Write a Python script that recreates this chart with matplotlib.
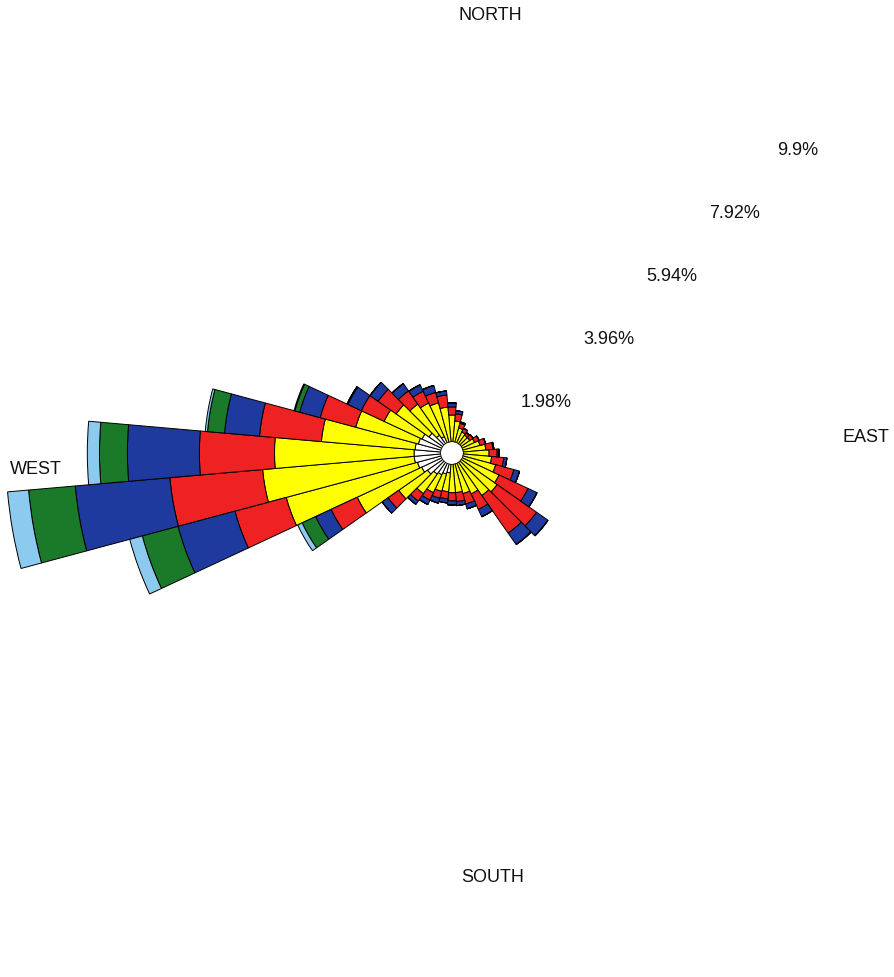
import numpy as np
import matplotlib
matplotlib.use("Agg")
import matplotlib.pyplot as plt
from matplotlib.transforms import offset_copy

plt.rcParams['font.family'] = ['Liberation Sans', 'DejaVu Sans']

# Wind directions (degrees, sector centres, 10-degree bins)
directions = np.arange(0, 360, 10)

# Frequency (%) per speed class for each direction sector
class_1 = [0.00, 0.00, 0.00, 0.00, 0.00, 0.00, 0.00, 0.00, 0.00, 0.00,
           0.00, 0.00, 0.00, 0.00, 0.00, 0.00, 0.00, 0.00, 0.00, 0.20,
           0.24, 0.29, 0.33, 0.42, 0.50, 0.55, 0.60, 0.60, 0.58, 0.53,
           0.49, 0.38, 0.24, 0.16, 0.00, 0.00]
class_2 = [0.60, 0.47, 0.33, 0.27, 0.24, 0.24, 0.31, 0.40, 0.51, 0.58,
           0.64, 0.76, 0.91, 0.98, 0.91, 0.76, 0.69, 0.64, 0.64, 0.42,
           0.40, 0.44, 0.53, 0.78, 1.58, 3.02, 3.38, 3.10, 2.09, 1.44,
           0.93, 0.89, 0.84, 0.82, 0.91, 0.78]
class_3 = [0.18, 0.16, 0.11, 0.09, 0.07, 0.09, 0.11, 0.13, 0.16, 0.18,
           0.27, 0.42, 0.71, 1.07, 1.02, 0.38, 0.24, 0.20, 0.18, 0.16,
           0.16, 0.18, 0.20, 0.29, 0.64, 1.18, 2.07, 1.67, 1.38, 0.82,
           0.56, 0.49, 0.36, 0.29, 0.24, 0.27]
class_4 = [0.09, 0.07, 0.03, 0.00, 0.00, 0.00, 0.00, 0.00, 0.02, 0.04,
           0.07, 0.13, 0.22, 0.31, 0.31, 0.18, 0.11, 0.09, 0.09, 0.09,
           0.11, 0.11, 0.09, 0.16, 0.38, 1.31, 2.11, 1.60, 0.78, 0.47,
           0.33, 0.22, 0.20, 0.16, 0.16, 0.09]
class_5 = [0.00, 0.00, 0.00, 0.00, 0.00, 0.00, 0.00, 0.00, 0.00, 0.00,
           0.00, 0.00, 0.00, 0.00, 0.00, 0.00, 0.00, 0.00, 0.00, 0.00,
           0.00, 0.00, 0.00, 0.00, 0.33, 0.82, 1.04, 0.62, 0.38, 0.11,
           0.02, 0.00, 0.00, 0.00, 0.00, 0.00]
class_6 = [0.00, 0.00, 0.00, 0.00, 0.00, 0.00, 0.00, 0.00, 0.00, 0.00,
           0.00, 0.00, 0.00, 0.00, 0.00, 0.00, 0.00, 0.00, 0.00, 0.00,
           0.00, 0.00, 0.00, 0.00, 0.11, 0.29, 0.47, 0.27, 0.05, 0.02,
           0.00, 0.00, 0.00, 0.00, 0.00, 0.00]

speed_classes = [class_1, class_2, class_3, class_4, class_5, class_6]
class_colors = ['#ffffff', '#ffff00', '#ee2222', '#1f3a9e', '#1a7a2a', '#8ccaf0']

ring_values = [1.98, 3.96, 5.94, 7.92, 9.9]
ring_labels = ['1.98%', '3.96%', '5.94%', '7.92%', '9.9%']
compass_labels = ['NORTH', 'SOUTH', 'WEST', 'EAST']

W, H = 894, 977
fig = plt.figure(figsize=(W / 100, H / 100), dpi=100)

cx, cy, R = 452, 453, 460
ax = fig.add_axes([(cx - R) / W, (H - cy - R) / H, 2 * R / W, 2 * R / H],
                  projection='polar')
ax.set_theta_zero_location('N')
ax.set_theta_direction(-1)
ax.set_rorigin(-0.244)
ax.set_ylim(0, 9.978)
ax.set_axis_off()

theta = np.deg2rad(directions)
width = np.deg2rad(10)
bottom = np.zeros(len(directions))
for vals, col in zip(speed_classes, class_colors):
    vals = np.asarray(vals)
    ax.bar(theta, vals, width=width, bottom=bottom, color=col,
           edgecolor='black', linewidth=0.7, align='center')
    bottom = bottom + vals

# Ring value labels along the north-east diagonal
lab_tr = offset_copy(ax.transData, fig=fig, x=23, y=-20, units='dots')
for v, lab in zip(ring_values, ring_labels):
    ax.text(np.deg2rad(45), v, lab, transform=lab_tr, ha='center',
            va='center', fontsize=13, color='#111111')

# Compass labels
compass_pos = [(490, 16), (493, 878), (36, 470), (866, 438)]
for lab, (px, py) in zip(compass_labels, compass_pos):
    fig.text(px / W, 1 - py / H, lab, ha='center', va='center',
             fontsize=13, color='#111111')

fig.savefig('out.png', dpi=100, facecolor='white')
